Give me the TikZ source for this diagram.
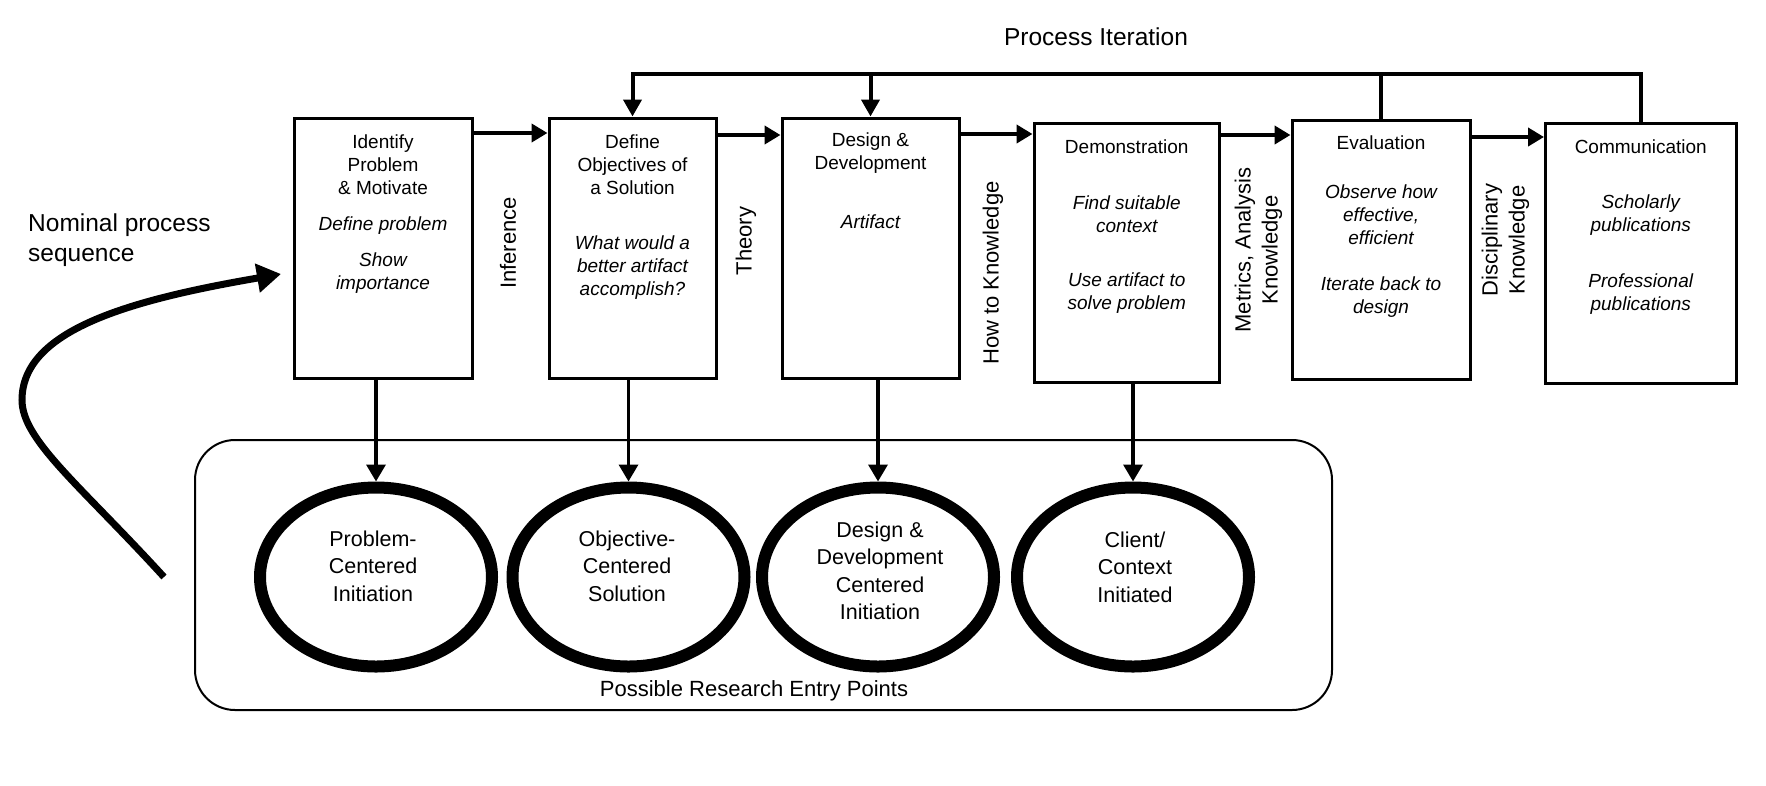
\documentclass[tikz,border=0pt]{standalone}
\usepackage{fontspec}
\setmainfont{Liberation Sans}
\usetikzlibrary{arrows.meta,shapes.geometric}
\begin{document}
\begin{tikzpicture}[x=1pt,y=-1pt,line join=miter,
  box/.style={draw,line width=3pt,inner sep=0pt},
  ttl/.style={font=\fontsize{19}{23}\selectfont,align=center,inner sep=0pt},
  bdy/.style={font=\fontsize{19}{23}\selectfont\itshape,align=center,inner sep=0pt},
  lbl/.style={font=\fontsize{22}{27}\selectfont,align=center,rotate=90,inner sep=0pt},
  big/.style={font=\fontsize{24.5}{30}\selectfont,inner sep=0pt},
  ent/.style={ellipse,draw,line width=12pt,minimum width=232pt,minimum height=179pt,inner sep=0pt},
  etx/.style={font=\fontsize{21.5}{27.5}\selectfont,align=center,inner sep=0pt},
  flow/.style={line width=4.5pt,-{Triangle[length=16pt,width=18pt]}},
  dn/.style={line width=3.5pt,-{Triangle[length=17pt,width=19pt]}},
  iter/.style={line width=4pt}]
\fill[white] (0,0) rectangle (1766,785);
\useasboundingbox (0,0) rectangle (1766,785);

% entry points frame
\node[draw,line width=2pt,rounded corners=40pt,minimum width=1137pt,minimum height=270pt,inner sep=0pt] (entry) at (763.5,575) {};
\node[font=\fontsize{22}{26}\selectfont,inner sep=0pt] (entrylbl) at (754,691) {Possible Research Entry Points};

% boxes
\node[box,minimum width=178pt,minimum height=260pt] (b1) at (383,248) {};
\node[box,minimum width=167pt,minimum height=260pt] (b2) at (632.5,248) {};
\node[box,minimum width=177pt,minimum height=260pt] (b3) at (870.5,248) {};
\node[box,minimum width=185.5pt,minimum height=259pt] (b4) at (1126.75,252.5) {};
\node[box,minimum width=178pt,minimum height=259pt] (b5) at (1381,249.5) {};
\node[box,minimum width=190.5pt,minimum height=260pt] (b6) at (1640.75,253) {};

% box texts
\node[ttl] (t1) at (383,165) {Identify\\Problem\\\& Motivate};
\node[bdy] (d1a) at (383,226) {Define problem};
\node[bdy] (d1b) at (383,273.5) {Show\\importance};
\node[ttl] (t2) at (632.5,165) {Define\\Objectives of\\a Solution};
\node[bdy] (d2) at (632.5,268) {What would a\\better artifact\\accomplish?};
\node[ttl] (t3) at (870.5,153.5) {Design \&\\Development};
\node[bdy] (d3) at (870.5,222) {Artifact};
\node[ttl] (t4) at (1126.75,147) {Demonstration};
\node[bdy] (d4a) at (1126.75,214) {Find suitable\\context};
\node[bdy] (d4b) at (1126.75,293.5) {Use artifact to\\solve problem};
\node[ttl] (t5) at (1381,143) {Evaluation};
\node[bdy] (d5a) at (1381,215) {Observe how\\effective,\\efficient};
\node[bdy] (d5b) at (1381,297.5) {Iterate back to\\design};
\node[ttl] (t6) at (1640.75,147) {Communication};
\node[bdy] (d6a) at (1640.75,215) {Scholarly\\publications};
\node[bdy] (d6b) at (1640.75,294) {Professional\\publications};

% vertical labels
\node[lbl] (l1) at (508,243) {Inference};
\node[lbl] (l2) at (746,241) {Theory};
\node[lbl] (l3) at (993,273) {How to Knowledge};
\node[lbl] (l4) at (1258.5,250) {Metrics, Analysis\\Knowledge};
\node[lbl] (l5) at (1505.5,240) {Disciplinary\\Knowledge};

% headings
\node[big] (pi) at (1096,37) {Process Iteration};
\node[big,align=left,anchor=west] (nom) at (28,240) {Nominal process\\sequence};

% ellipses
\node[ent] (e1) at (376,577) {};
\node[ent] (e2) at (628.5,577) {};
\node[ent] (e3) at (878,577) {};
\node[ent] (e4) at (1133,577) {};
\node[etx] (e1t) at (373,566) {Problem-\\Centered\\Initiation};
\node[etx] (e2t) at (627,566) {Objective-\\Centered\\Solution};
\node[etx] (e3t) at (880,571) {Design \&\\Development\\Centered\\Initiation};
\node[etx] (e4t) at (1135,567) {Client/\\Context\\Initiated};

% flow arrows
\draw[flow] (b1.east |- 0,133) -- (b2.west |- 0,133);
\draw[flow] (b2.east |- 0,135) -- (b3.west |- 0,135);
\draw[flow] (b3.east |- 0,134) -- (b4.west |- 0,134);
\draw[flow] (b4.east |- 0,135) -- (b5.west |- 0,135);
\draw[flow] (b5.east |- 0,137) -- (b6.west |- 0,137);

% down arrows
\draw[dn] (e1.north |- b1.south) -- (e1.north);
\draw[dn] (e2.north |- b2.south) -- (e2.north);
\draw[dn] (e3.north |- b3.south) -- (e3.north);
\draw[dn] (e4.north |- b4.south) -- (e4.north);

% process iteration
\draw[iter,-{Triangle[length=17pt,width=18pt]}] (b6.north) -- (b6.north |- 0,74) -- (b2.north |- 0,74) -- (b2.north);
\draw[iter,-{Triangle[length=17pt,width=18pt]}] (b3.north |- 0,74) -- (b3.north);
\draw[iter] (b5.north) -- (b5.north |- 0,74);

% nominal sequence curve
\coordinate (ns) at (164,577);
\coordinate (ne) at (281,274);
\draw[line width=7pt,-{Triangle[length=24pt,width=28pt]}] (ns) .. controls (80,485) and (22,440) .. (22,400) .. controls (22,330) and (130,300) .. (ne);
\end{tikzpicture}
\end{document}
